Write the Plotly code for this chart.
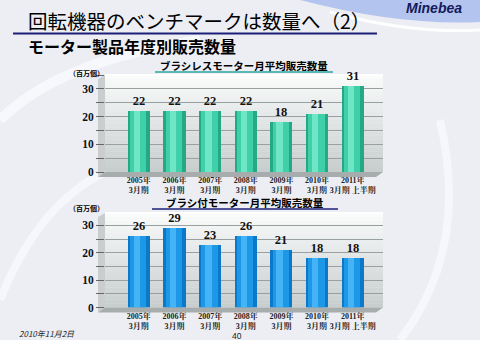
import plotly.graph_objects as go

# ---------------- data ----------------
categories = ["2005年<br>3月期", "2006年<br>3月期", "2007年<br>3月期", "2008年<br>3月期",
              "2009年<br>3月期", "2010年<br>3月期", "2011年<br>3月期 上半期"]
brushless = [22, 22, 22, 22, 18, 21, 31]
brushed = [26, 29, 23, 26, 21, 18, 18]
y_tickvals = [0, 10, 20, 30]
y_ticktext = ["0", "10", "20", "30"]

main_title = "回転機器のベンチマークは数量へ（2）"
sub_title = "モーター製品年度別販売数量"
chart1_title = "ブラシレスモーター月平均販売数量"
chart2_title = "ブラシ付モーター月平均販売数量"
unit_label = "（百万個）"
date_label = "2010年11月2日"
page_no = "40"
logo = "Minebea"

W, H = 480, 340


def fx(x):
    return x / W


def fy(y):
    return 1 - y / H


JP = "Noto Sans CJK JP"
SERIF = "Liberation Serif, Noto Serif CJK JP, Noto Sans CJK JP"

fig = go.Figure()


def add_bars(vals, xa, ya, cols):
    dark, mid, light = cols
    fig.add_trace(go.Bar(x=categories, y=vals, xaxis=xa, yaxis=ya, width=0.62,
                         marker=dict(color=dark, line=dict(width=0)),
                         text=[str(v) for v in vals], textposition="outside",
                         textfont=dict(family=SERIF, size=12.5, color="#111", weight=700),
                         cliponaxis=False, hoverinfo="skip"))
    fig.add_trace(go.Bar(x=categories, y=vals, xaxis=xa, yaxis=ya, width=0.46, offset=-0.25,
                         marker=dict(color=mid, line=dict(width=0)), hoverinfo="skip"))
    fig.add_trace(go.Bar(x=categories, y=vals, xaxis=xa, yaxis=ya, width=0.18, offset=-0.14,
                         marker=dict(color=light, line=dict(width=0)), hoverinfo="skip"))


add_bars(brushless, "x", "y", ("#25a985", "#3fcfa9", "#6fe6c6"))
add_bars(brushed, "x2", "y2", ("#0b78c9", "#1c98e6", "#45b4f7"))

xrange = [-0.95, 6.85]
xdom = [fx(105), fx(383)]
xaxis_common = dict(range=xrange, domain=xdom, showgrid=False, zeroline=False, showline=False,
                    ticks="", tickangle=0, automargin=False, ticklabelstandoff=2,
                    tickfont=dict(family=SERIF, size=8, color="#222", weight=700),
                    fixedrange=True)
yaxis_common = dict(tickvals=y_tickvals, ticktext=y_ticktext, ticks="outside", ticklen=8,
                    tickcolor="#666", tickwidth=1, showgrid=False, zeroline=False, automargin=False,
                    showline=False, tickfont=dict(family=SERIF, size=11.5, color="#111", weight=700),
                    minor=dict(dtick=5, tick0=0, ticks="outside", ticklen=8, tickcolor="#666",
                               showgrid=True, gridcolor="#9aa0a0", gridwidth=1),
                    fixedrange=True)

fig.update_layout(
    width=W, height=H, margin=dict(l=0, r=0, t=0, b=0),
    paper_bgcolor="#eceef4", plot_bgcolor="rgba(0,0,0,0)",
    showlegend=False, barmode="overlay", bargap=0,
    xaxis=dict(**xaxis_common, anchor="y"),
    yaxis=dict(**yaxis_common, range=[0, 35], domain=[fy(172), fy(75)], anchor="x"),
    xaxis2=dict(**xaxis_common, anchor="y2"),
    yaxis2=dict(**yaxis_common, range=[0, 34.5], domain=[fy(307.5), fy(213)], anchor="x2"),
)

shapes = []
# background swirls
shapes.append(dict(type="path", xref="paper", yref="paper", layer="below",
                   path=f"M {fx(300)} {fy(0)} Q {fx(400)} {fy(26)} {fx(480)} {fy(22)} L {fx(480)} {fy(0)} Z",
                   fillcolor="rgba(160,182,238,0.75)", line=dict(width=0)))
shapes.append(dict(type="path", xref="paper", yref="paper", layer="below",
                   path=f"M {fx(330)} {fy(12)} Q {fx(410)} {fy(34)} {fx(480)} {fy(30)}",
                   line=dict(color="rgba(255,255,255,0.9)", width=3)))
shapes.append(dict(type="path", xref="paper", yref="paper", layer="below",
                   path=f"M {fx(0)} {fy(120)} Q {fx(60)} {fy(60)} {fx(200)} {fy(40)}",
                   line=dict(color="rgba(255,255,255,0.6)", width=10)))
shapes.append(dict(type="path", xref="paper", yref="paper", layer="below",
                   path=f"M {fx(0)} {fy(300)} Q {fx(40)} {fy(200)} {fx(110)} {fy(170)}",
                   line=dict(color="rgba(255,255,255,0.5)", width=8)))
shapes.append(dict(type="path", xref="paper", yref="paper", layer="below",
                   path=f"M {fx(400)} {fy(340)} Q {fx(470)} {fy(250)} {fx(440)} {fy(120)}",
                   line=dict(color="rgba(255,255,255,0.5)", width=8)))

# plot wall gradients
N = 24
top_c = (250, 251, 251)
bot_c = (200, 205, 205)
for xa, ya in (("x", "y"), ("x2", "y2")):
    for k in range(N):
        t = k / (N - 1)
        c = tuple(int(bot_c[i] + (top_c[i] - bot_c[i]) * t) for i in range(3))
        shapes.append(dict(type="rect", xref=f"{xa} domain", yref=f"{ya} domain", layer="below",
                           x0=0, x1=1, y0=k / N, y1=(k + 1) / N + 0.002,
                           fillcolor=f"rgb{c}", line=dict(width=0)))

# 3D floor and side walls
for (top, floor) in ((75, 172), (213, 307.5)):
    shapes.append(dict(type="path", xref="paper", yref="paper", layer="above",
                       path=(f"M {fx(105)} {fy(floor)} L {fx(383)} {fy(floor)} L {fx(376)} {fy(floor + 5)} "
                             f"L {fx(98)} {fy(floor + 5)} Z"),
                       fillcolor="#a7acac", line=dict(width=0)))
    shapes.append(dict(type="path", xref="paper", yref="paper", layer="below",
                       path=(f"M {fx(98)} {fy(top + 4)} L {fx(105)} {fy(top)} L {fx(105)} {fy(floor)} "
                             f"L {fx(98)} {fy(floor + 5)} Z"),
                       fillcolor="#c9cdcd", line=dict(width=0)))
    shapes.append(dict(type="line", xref="paper", yref="paper", layer="below",
                       x0=fx(105), x1=fx(383), y0=fy(top), y1=fy(top),
                       line=dict(color="#ffffff", width=2)))

# title underlines
shapes.append(dict(type="line", xref="paper", yref="paper", x0=fx(13), x1=fx(377), y0=fy(33.5), y1=fy(33.5),
                   line=dict(color="#1c1f78", width=2)))
shapes.append(dict(type="line", xref="paper", yref="paper", x0=fx(155), x1=fx(333), y0=fy(72), y1=fy(72),
                   line=dict(color="#2aa6a0", width=1.5)))
shapes.append(dict(type="line", xref="paper", yref="paper", x0=fx(152), x1=fx(338), y0=fy(209), y1=fy(209),
                   line=dict(color="#1c1f78", width=1.5)))
fig.update_layout(shapes=shapes)

ann = []


def text(t, x, y, size, family=JP, color="#000", weight=400, style="normal", xanchor="left"):
    ann.append(dict(text=t, x=fx(x), y=fy(y), xref="paper", yref="paper", showarrow=False,
                    xanchor=xanchor, yanchor="middle", borderpad=0,
                    font=dict(family=family, size=size, color=color, weight=weight, style=style)))


text(main_title, 27, 20.5, 19.5)
text(sub_title, 27, 46, 16, weight=700)
text(chart1_title, 244, 65, 10.5, weight=700, xanchor="center")
text(chart2_title, 245, 202, 10.5, weight=700, xanchor="center")
text(unit_label, 86, 73, 7, weight=700, xanchor="center")
text(unit_label, 86, 208, 7, weight=700, xanchor="center")
text(logo, 434, 8, 14, family="Liberation Sans, Arial", color="#141a5c", weight=700, style="italic",
     xanchor="center")
text(date_label, 18, 333, 8, style="italic", color="#222")
text(page_no, 237, 335.5, 8.5, family="Liberation Sans, Arial", color="#222", xanchor="center")
fig.update_layout(annotations=ann)

fig.write_html("out.html")
